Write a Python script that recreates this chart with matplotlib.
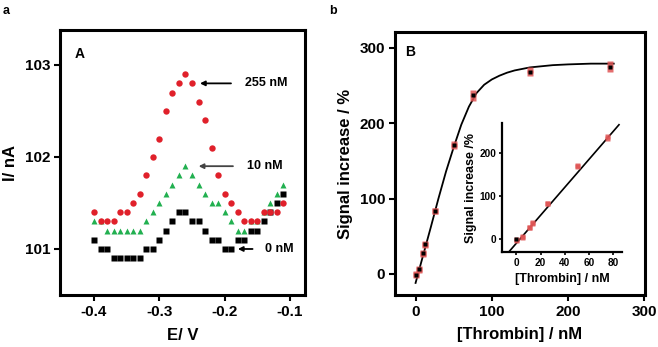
import numpy as np
import matplotlib
matplotlib.use("Agg")
import matplotlib.pyplot as plt

plt.rcParams["font.family"] = ["Liberation Sans", "DejaVu Sans"]
plt.rcParams["font.weight"] = "bold"

# panel A: square wave voltammograms
potencial = np.round(np.arange(-0.40, -0.105, 0.01), 2)
corrente_0nM = [101.1, 101.0, 101.0, 100.9, 100.9, 100.9, 100.9, 100.9, 101.0, 101.0,
                101.1, 101.2, 101.3, 101.4, 101.4, 101.3, 101.3, 101.2, 101.1, 101.1,
                101.0, 101.0, 101.1, 101.1, 101.2, 101.2, 101.3, 101.4, 101.5, 101.6]
corrente_10nM = [101.3, 101.3, 101.2, 101.2, 101.2, 101.2, 101.2, 101.2, 101.3, 101.4,
                 101.5, 101.6, 101.7, 101.8, 101.9, 101.8, 101.7, 101.6, 101.5, 101.5,
                 101.4, 101.3, 101.2, 101.2, 101.3, 101.3, 101.4, 101.5, 101.6, 101.7]
corrente_255nM = [101.4, 101.3, 101.3, 101.3, 101.4, 101.4, 101.5, 101.6, 101.8, 102.0,
                  102.2, 102.5, 102.7, 102.8, 102.9, 102.8, 102.6, 102.4, 102.1, 101.8,
                  101.6, 101.5, 101.4, 101.3, 101.3, 101.3, 101.4, 101.4, 101.4, 101.5]

# panel B: calibration
trombina = [0, 5, 10, 12.5, 25, 50, 75, 150, 255]
sinal_rep1 = [0, 7, 28, 40, 84, 172, 240, 271, 278]
sinal_rep2 = [-2, 5, 27, 38, 83, 170, 234, 266, 272]
curva_x = [0, 10, 20, 30, 40, 50, 60, 70, 80, 90, 100, 110, 120, 130, 150, 180, 200, 230, 260]
curva_y = [-12, 25, 62, 100, 136, 168, 198, 222, 240, 251, 258, 263, 267, 270, 274, 277, 278, 279, 279]
reta_x = [-7, 85]
reta_y = [-32, 266]

fig = plt.figure(figsize=(6.58, 3.47), dpi=100)

# ---------- panel A ----------
axA = fig.add_axes([0.0912, 0.1499, 0.3723, 0.7636])
axA.plot(potencial, corrente_0nM, "s", color="black", ms=4.2, mec="none")
axA.plot(potencial, corrente_10nM, "^", color="#22b050", ms=5, mec="none")
axA.plot(potencial, corrente_255nM, "o", color="#e0202a", ms=4.6, mec="none")
axA.set_xlim(-0.452, -0.077)
axA.set_ylim(100.5, 103.38)
axA.set_xticks([-0.4, -0.3, -0.2, -0.1])
axA.set_xticklabels(["-0.4", "-0.3", "-0.2", "-0.1"])
axA.set_yticks([101, 102, 103])
axA.set_xlabel("E/ V", fontsize=12, fontweight="bold", labelpad=7)
axA.set_ylabel("I/ nA", fontsize=12, fontweight="bold", labelpad=5)
axA.text(0.06, 0.935, "A", transform=axA.transAxes, fontsize=10, fontweight="bold", va="top")

seta = dict(arrowstyle="-|>", color="black", lw=1.3, mutation_scale=7)
axA.annotate("", xy=(-0.242, 102.8), xytext=(-0.186, 102.8), arrowprops=seta)
axA.text(-0.169, 102.8, "255 nM", fontsize=9, fontweight="bold", va="center")
axA.annotate("", xy=(-0.244, 101.9), xytext=(-0.183, 101.9),
             arrowprops=dict(seta, color="#444444"))
axA.text(-0.166, 101.9, "10 nM", fontsize=9, fontweight="bold", va="center")
axA.annotate("", xy=(-0.184, 101.0), xytext=(-0.153, 101.0), arrowprops=seta)
axA.text(-0.138, 101.0, "0 nM", fontsize=9, fontweight="bold", va="center")

# ---------- panel B ----------
axB = fig.add_axes([0.6003, 0.1499, 0.3799, 0.7579])
axB.plot(curva_x, curva_y, "-", color="black", lw=1.3)
axB.plot(trombina, sinal_rep1, "s", color="#e05555", ms=5, mec="none", alpha=0.85)
axB.plot(trombina, sinal_rep2, "s", color="#e05555", ms=5, mec="none", alpha=0.85)
axB.plot(trombina, [(a + b) / 2 for a, b in zip(sinal_rep1, sinal_rep2)], "s",
         color="black", ms=3, mec="none")
axB.set_xlim(-27, 301)
axB.set_ylim(-28, 321)
axB.set_xticks([0, 100, 200, 300])
axB.set_yticks([0, 100, 200, 300])
axB.set_xlabel("[Thrombin] / nM", fontsize=12, fontweight="bold", labelpad=6)
axB.set_ylabel("Signal increase / %", fontsize=12, fontweight="bold", labelpad=5)
axB.text(0.04, 0.95, "B", transform=axB.transAxes, fontsize=10, fontweight="bold", va="top")

for ax in (axA, axB):
    for s in ax.spines.values():
        s.set_linewidth(2.2)
    ax.tick_params(direction="out", length=4, width=1.5, labelsize=11, pad=3)
    for lab in ax.get_xticklabels() + ax.get_yticklabels():
        lab.set_fontweight("bold")

# ---------- inset ----------
axI = fig.add_axes([0.7629, 0.2738, 0.1824, 0.3717])
sub = [i for i, t in enumerate(trombina) if t <= 80]
axI.plot(reta_x, reta_y, "-", color="black", lw=1.2)
axI.plot([trombina[i] for i in sub], [sinal_rep1[i] for i in sub], "s", color="#e05555",
         ms=3.6, mec="none", alpha=0.85)
axI.plot([trombina[i] for i in sub], [sinal_rep2[i] for i in sub], "s", color="#e05555",
         ms=3.6, mec="none", alpha=0.85)
axI.plot([trombina[0]], [sinal_rep1[0]], "s", color="black", ms=3, mec="none")
axI.set_xlim(-12, 87.5)
axI.set_ylim(-30, 270)
axI.set_xticks([0, 20, 40, 60, 80])
axI.set_yticks([0, 100, 200])
axI.spines["top"].set_visible(False)
axI.spines["right"].set_visible(False)
for s in ("left", "bottom"):
    axI.spines[s].set_linewidth(1.6)
axI.tick_params(direction="out", length=2.5, width=1.2, labelsize=7.2, pad=1.5)
for lab in axI.get_xticklabels() + axI.get_yticklabels():
    lab.set_fontweight("bold")
axI.set_xlabel("[Thrombin] / nM", fontsize=9, fontweight="bold", labelpad=4)
axI.set_ylabel("Signal increase /%", fontsize=9, fontweight="bold", labelpad=2)

fig.text(0.004, 0.985, "a", fontsize=9, fontweight="bold", va="top")
fig.text(0.5, 0.985, "b", fontsize=9, fontweight="bold", va="top")

fig.savefig("out.png", dpi=100)
